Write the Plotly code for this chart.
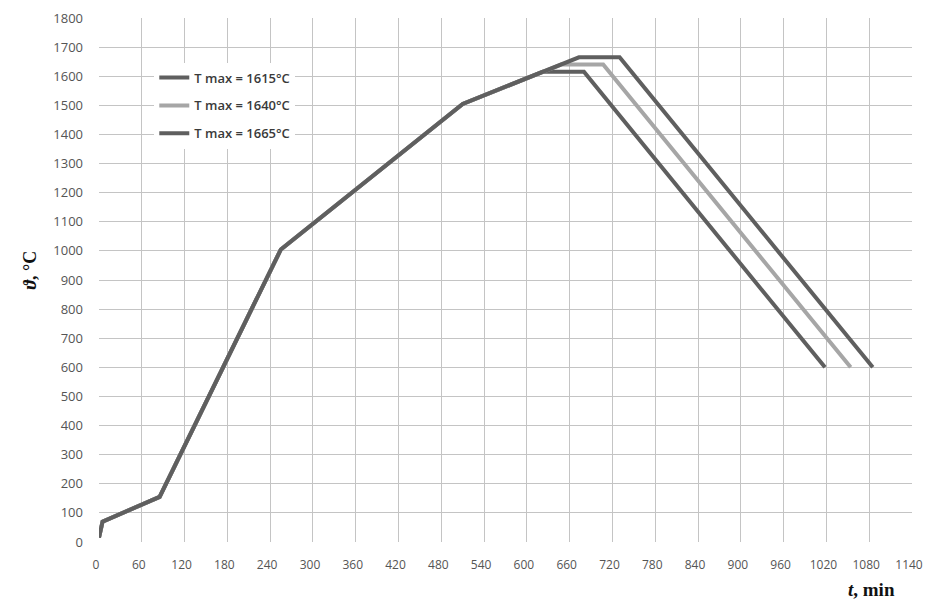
import plotly.graph_objects as go

# common heating part (min, °C)
rise_t = [0, 5, 85, 255, 510]
rise_T = [15, 70, 155, 1005, 1505]

series_names = ['T max = 1615°C', 'T max = 1640°C', 'T max = 1665°C']
# hold / cooling points for each regime
t_1615 = [622, 680, 1018]
T_1615 = [1615, 1615, 600]
t_1640 = [648, 707, 1054]
T_1640 = [1640, 1640, 600]
t_1665 = [673, 730, 1085]
T_1665 = [1665, 1665, 600]

colors = ['#5f5f5f', '#a6a6a6', '#5f5f5f']

x_ticks = list(range(0, 1141, 60))
y_ticks = list(range(0, 1801, 100))

fig = go.Figure()

for i, (name, tt, TT, col) in enumerate(zip(series_names,
                                            [t_1615, t_1640, t_1665],
                                            [T_1615, T_1640, T_1665],
                                            colors)):
    fig.add_trace(go.Scatter(
        x=rise_t + tt,
        y=rise_T + TT,
        name=name,
        legendgroup='g%d' % i,
        mode='lines',
        line=dict(color=col, width=4),
    ))

# page body has an 8px margin, so the figure is a bit smaller than the window
fig.update_layout(
    width=923,
    height=596,
    margin=dict(l=91, r=19, t=10, b=62, autoexpand=False),
    paper_bgcolor='white',
    plot_bgcolor='white',
    font=dict(family='Open Sans, DejaVu Sans, sans-serif', color='#555555', size=13),
    legend=dict(
        x=0.068, y=0.915,
        xanchor='left', yanchor='top',
        bgcolor='white',
        font=dict(size=13, color='#3a3a3a', family='Open Sans, sans-serif', weight=600),
        tracegroupgap=8,
        itemwidth=30,
    ),
    showlegend=True,
)

fig.update_xaxes(
    range=[0, 1140],
    tickvals=x_ticks,
    showgrid=True,
    gridcolor='#c4c4c4',
    gridwidth=1,
    zeroline=False,
    showline=False,
    ticks='',
    automargin=False,
    ticklabelstandoff=14,
    ticklabelshift=-3,
    tickfont=dict(size=12, color='#555555'),
)
fig.update_yaxes(
    range=[0, 1800],
    tickvals=y_ticks,
    showgrid=True,
    gridcolor='#c4c4c4',
    gridwidth=1,
    zeroline=False,
    showline=False,
    ticks='',
    automargin=False,
    ticklabelstandoff=15,
    tickfont=dict(size=13, color='#555555'),
)

fig.add_annotation(
    text='<b><i>ϑ</i>, °C</b>',
    xref='paper', yref='paper',
    x=-0.085, y=0.52,
    xanchor='center', yanchor='middle',
    textangle=-90,
    showarrow=False,
    font=dict(family='Liberation Serif, serif', size=18, color='#111111'),
)
fig.add_annotation(
    text='<b><i>t</i>, min</b>',
    xref='paper', yref='paper',
    x=0.95, y=-0.09,
    xanchor='center', yanchor='middle',
    showarrow=False,
    font=dict(family='Liberation Serif, serif', size=19, color='#111111'),
)

fig.write_html('out.html')
